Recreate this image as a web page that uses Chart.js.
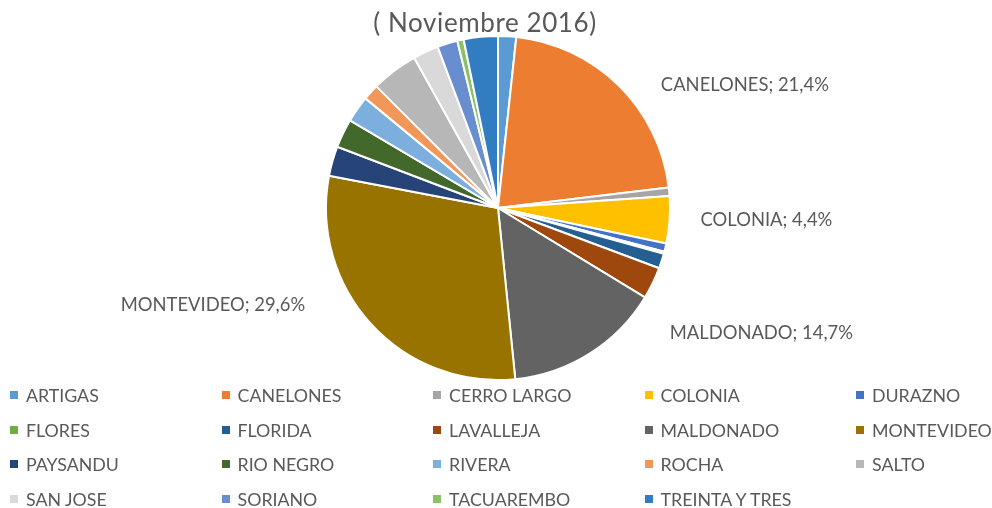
<!DOCTYPE html>
<html>
<head>
<meta charset="utf-8">
<script src="https://cdn.jsdelivr.net/npm/chart.js@4.4.0/dist/chart.umd.min.js"></script>
<style>
  html, body { margin: 0; padding: 0; background: #ffffff; }
  #wrap { position: relative; width: 992px; height: 508px; overflow: hidden; font-family: Lato, "Open Sans", sans-serif; color: #595959; }
  #chart { position: absolute; left: 0; top: 0; }
  #title { position: absolute; left: 0; width: 970px; top: 7px; text-align: center; font-size: 26px; line-height: 30px; letter-spacing: 0.6px; }
  .lg-item { position: absolute; height: 20px; line-height: 20px; font-size: 17.8px; white-space: nowrap; }
  .lg-box { position: absolute; left: 0; top: 6px; width: 8px; height: 8px; }
  .lg-text { position: absolute; left: 16px; top: 0; }
</style>
</head>
<body>
<div id="wrap">
  <canvas id="chart" width="992" height="508"></canvas>
  <div id="title"></div>
  <div id="legend"></div>
</div>
<script>
const titleText = '( Noviembre 2016)';
const categories = ['ARTIGAS','CANELONES','CERRO LARGO','COLONIA','DURAZNO','FLORES','FLORIDA','LAVALLEJA','MALDONADO','MONTEVIDEO','PAYSANDU','RIO NEGRO','RIVERA','ROCHA','SALTO','SAN JOSE','SORIANO','TACUAREMBO','TREINTA Y TRES'];
const shares = [1.7, 21.4, 0.8, 4.4, 0.8, 0.2, 1.4, 3.0, 14.7, 29.6, 2.8, 2.7, 2.5, 1.5, 4.4, 2.4, 1.9, 0.6, 3.2];
const sliceColors = ['#5B9BD5','#ED7D31','#A5A5A5','#FFC000','#4472C4','#70AD47','#255E91','#9E480E','#636363','#997300','#264478','#43682B','#7CAFDD','#F1975A','#B7B7B7','#D9D9D9','#698ED0','#8CC168','#327DC2'];
const labeledCategories = ['CANELONES','COLONIA','MALDONADO','MONTEVIDEO'];

// label placement relative to the outer midpoint of each labeled slice
const labelPlacement = {
  'CANELONES':  { dx: 42, dy: -1, align: 'left' },
  'COLONIA':    { dx: 31, dy: 0, align: 'left' },
  'MALDONADO':  { dx: 80, dy: -20, align: 'left' },
  'MONTEVIDEO': { dx: -66, dy: -19, align: 'right' }
};

document.getElementById('title').textContent = titleText;

function fmtPct(v, total) {
  return (v / total * 100).toFixed(1).replace('.', ',') + '%';
}

const sliceLabels = {
  id: 'sliceLabels',
  afterDatasetsDraw(chart) {
    const ctx = chart.ctx;
    const meta = chart.getDatasetMeta(0);
    const data = chart.data.datasets[0].data;
    const total = data.reduce((a, b) => a + b, 0);
    ctx.save();
    ctx.font = '18.4px Lato, "Open Sans", sans-serif';
    ctx.fillStyle = '#595959';
    ctx.textBaseline = 'middle';
    labeledCategories.forEach(name => {
      const i = chart.data.labels.indexOf(name);
      const arc = meta.data[i];
      const p = arc.getProps(['x','y','startAngle','endAngle','outerRadius'], true);
      const mid = (p.startAngle + p.endAngle) / 2;
      const px = p.x + Math.cos(mid) * p.outerRadius;
      const py = p.y + Math.sin(mid) * p.outerRadius;
      const pl = labelPlacement[name];
      ctx.textAlign = pl.align;
      ctx.fillText(name + '; ' + fmtPct(data[i], total), px + pl.dx, py + pl.dy);
    });
    ctx.restore();
  }
};

new Chart(document.getElementById('chart'), {
  type: 'pie',
  data: {
    labels: categories,
    datasets: [{
      data: shares,
      backgroundColor: sliceColors,
      borderColor: '#ffffff',
      borderWidth: 2
    }]
  },
  options: {
    responsive: false,
    animation: false,
    layout: { padding: { top: 35, bottom: 127, left: 4, right: 0 } },
    plugins: {
      legend: { display: false },
      tooltip: { enabled: false },
      title: { display: false }
    }
  },
  plugins: [sliceLabels]
});

// legend grid built from the same arrays
const legend = document.getElementById('legend');
categories.forEach((name, i) => {
  const row = Math.floor(i / 5), col = i % 5;
  const item = document.createElement('div');
  item.className = 'lg-item';
  item.style.left = (10 + col * 211.5) + 'px';
  item.style.top = (384.7 + row * 34.8) + 'px';
  const box = document.createElement('div');
  box.className = 'lg-box';
  box.style.background = sliceColors[i];
  const txt = document.createElement('div');
  txt.className = 'lg-text';
  txt.textContent = name;
  item.appendChild(box);
  item.appendChild(txt);
  legend.appendChild(item);
});
</script>
</body>
</html>
